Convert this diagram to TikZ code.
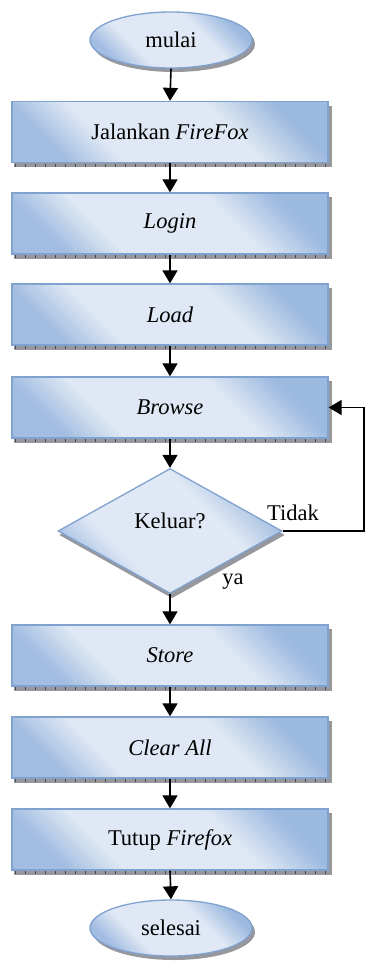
\documentclass[tikz,border=0pt]{standalone}
\usepackage{fontspec}
\setmainfont{Liberation Serif}
\newfontfamily\stepserif{Liberation Serif}
\usetikzlibrary{arrows.meta,shapes.geometric,backgrounds,calc}

\definecolor{edgeblue}{RGB}{128,162,207}
\definecolor{paleblue}{RGB}{223,232,244}
\definecolor{topblue}{RGB}{156,185,223}
\definecolor{lowblue}{RGB}{162,189,225}
\definecolor{hatchgray}{RGB}{150,152,158}
\definecolor{hatchdark}{RGB}{70,72,82}

% pale diagonal band between two deeper blue corners
\pgfdeclareverticalshading{stepshade}{100bp}{%
  color(0bp)=(lowblue); color(25bp)=(lowblue); color(36bp)=(paleblue);
  color(62bp)=(paleblue); color(75bp)=(topblue); color(100bp)=(topblue)}

\tikzset{
  label font/.style={font=\stepserif\fontsize{22.5bp}{27bp}\selectfont},
  bluefill/.style={draw=edgeblue, line width=1.3bp,
    shading=stepshade, shading angle=-45},
  procbox/.style={bluefill, rectangle, minimum width=316bp,
    minimum height=61bp, inner sep=0pt, label font},
  terminal/.style={bluefill, ellipse, minimum width=162bp,
    minimum height=56bp, inner sep=0pt, label font},
  decision/.style={bluefill, diamond, minimum width=224bp,
    minimum height=125bp, inner sep=0pt, label font},
  flow/.style={line width=1.6bp, -{Triangle[length=13bp,width=15bp]}},
  hatch/.style={fill=hatchgray},
  hatchticks/.style={draw=hatchdark, line width=3bp,
    dash pattern=on 0.8bp off 9.2bp},
  tag/.style={inner sep=0pt, label font},
}

\begin{document}
\begin{tikzpicture}[x=1bp, y=-1bp]
  \useasboundingbox (0,0) rectangle (365,961);

  % terminals, process steps and the decision
  \node[terminal] (start) at (171,40) {mulai};
  \node[procbox] (firefox) at (170,132) {Jalankan \textit{FireFox}};
  \node[procbox] (login) at (170,223.5) {\textit{Login}};
  \node[procbox] (load) at (170,314.5) {\textit{Load}};
  \node[procbox] (browse) at (170,407.5) {\textit{Browse}};
  \node[decision] (quit) at (170,531) {};
  \node[label font] (quittext) at (170,521) {Keluar?};
  \node[procbox] (store) at (170,655.5) {\textit{Store}};
  \node[procbox] (clear) at (170,747.5) {\textit{Clear All}};
  \node[procbox] (close) at (170,839.5) {Tutup \textit{Firefox}};
  \node[terminal] (stop) at (171,928) {selesai};

  % raised edges below and right of each step
  \begin{scope}[on background layer]
    \foreach \b in {firefox,login,load,browse,store,clear,close} {
      \fill[hatch] ($(\b.south west)+(3,-1)$) rectangle ($(\b.south east)+(3,4)$);
      \fill[hatch] ($(\b.north east)+(-1,5)$) rectangle ($(\b.south east)+(3,4)$);
      \draw[hatchticks] ($(\b.south west)+(4,2)$) -- ($(\b.south east)+(3,2)$);
    }
    \foreach \t in {start,stop} {
      \fill[hatch] ($(\t.center)+(3,4)$) ellipse [x radius=81bp, y radius=28bp];
    }
    \fill[hatch] ($(quit.west)+(2,4)$) -- ($(quit.south)+(2,4)$)
      -- ($(quit.east)+(2,4)$) -- ($(quit.north)+(2,4)$) -- cycle;
  \end{scope}

  % main flow
  \draw[flow] (start.south) -- (firefox.north);
  \draw[flow] (firefox.south) -- (login.north);
  \draw[flow] (login.south) -- (load.north);
  \draw[flow] (load.south) -- (browse.north);
  \draw[flow] (browse.south) -- (quit.north);
  \draw[flow] (quit.south) -- (store.north);
  \draw[flow] (store.south) -- (clear.north);
  \draw[flow] (clear.south) -- (close.north);
  \draw[flow] (close.south) -- (stop.north);

  % loop back when the user does not quit
  \coordinate (loopcorner) at (364,407.5);
  \draw[flow] (quit.east) -- (quit.east -| loopcorner) -- (loopcorner) -- (browse.east);

  % branch labels
  \node[tag] (notag) at (293,513) {Tidak};
  \node[tag] (yestag) at (233,582) {ya};
\end{tikzpicture}
\end{document}
